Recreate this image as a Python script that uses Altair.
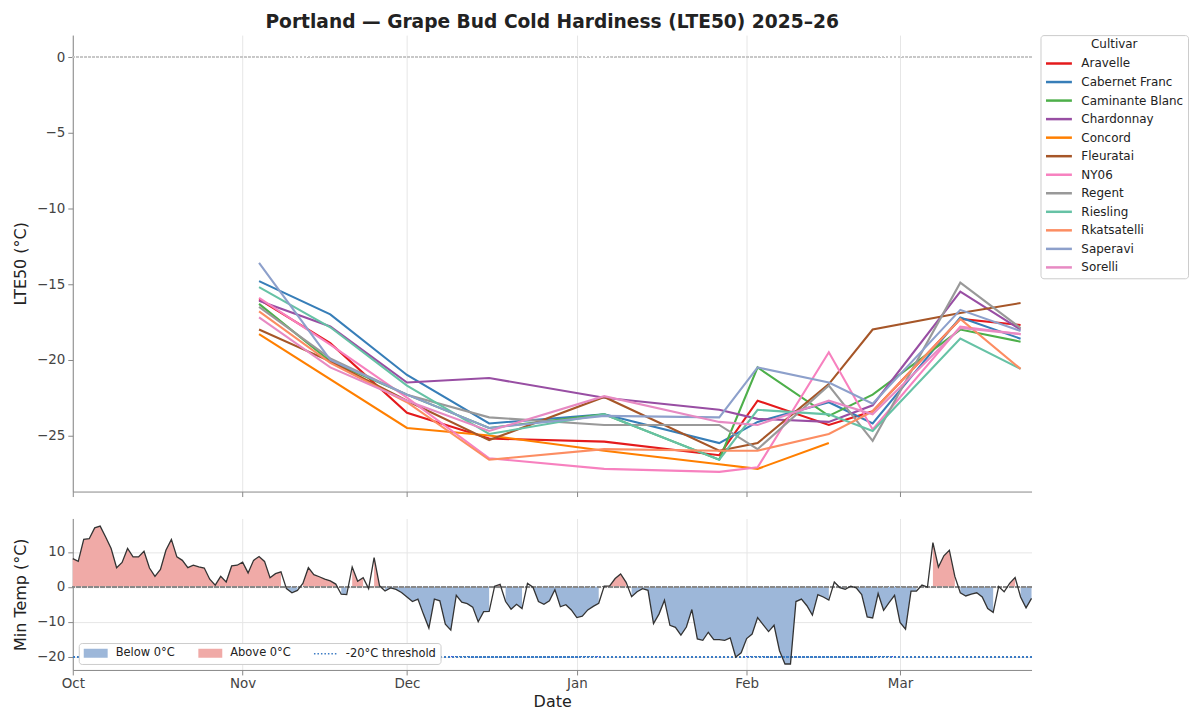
import altair as alt
import pandas as pd

FONT = "DejaVu Sans"
TITLE = "Portland — Grape Bud Cold Hardiness (LTE50) 2025–26"

# ---------------- LTE50 data ----------------
cultivars = ["Aravelle", "Cabernet Franc", "Caminante Blanc", "Chardonnay", "Concord",
             "Fleuratai", "NY06", "Regent", "Riesling", "Rkatsatelli", "Saperavi", "Sorelli"]
cultivar_colors = ["#e41a1c", "#377eb8", "#4daf4a", "#984ea3", "#ff7f00", "#a65628",
                   "#f781bf", "#999999", "#66c2a5", "#fc8d62", "#8da0cb", "#e78ac3"]

sample_dates = ["2025-11-04", "2025-11-17", "2025-12-01", "2025-12-16", "2026-01-06",
                "2026-01-27", "2026-02-03", "2026-02-16", "2026-02-24", "2026-03-12", "2026-03-23"]

aravelle = [-16.0, -18.9, -23.5, -25.2, -25.4, -26.3, -22.7, -24.3, -23.4, -17.3, -17.7]
cabernet_franc = [-14.8, -17.0, -21.0, -24.2, -23.6, -25.5, -24.1, -22.8, -24.2, -17.2, -18.6]
caminante_blanc = [-16.3, -20.1, -22.3, -24.5, -23.6, -26.6, -20.5, -23.7, -22.3, -18.0, -18.8]
chardonnay = [-16.1, -17.8, -21.5, -21.2, -22.5, -23.3, -23.9, -24.1, -23.0, -15.5, -18.0]
concord = [-18.3, None, -24.5, -25.0, -26.0, -26.9, -27.2, -25.5, None, None, None]
fleuratai = [-18.0, -20.1, -22.7, -25.3, -22.45, -26.0, -25.5, -21.6, -18.0, -16.9, -16.25]
ny06 = [-15.9, -19.0, -22.5, -26.5, -27.2, -27.4, -27.1, -19.5, -24.6, -17.8, -18.3]
regent = [-16.5, -19.9, -22.3, -23.8, -24.3, -24.3, -25.9, -21.7, -25.35, -14.9, -17.9]
riesling = [-15.2, -17.85, -21.7, -24.9, -23.6, -26.6, -23.3, -23.6, -24.7, -18.6, -20.6]
rkatsatelli = [-16.8, -20.2, -22.8, -26.6, -25.9, -26.0, -26.0, -24.9, -23.4, -17.3, -20.6]
saperavi = [-13.6, -20.0, -22.3, -24.5, -23.7, -23.8, -20.5, -21.5, -22.9, -16.7, -18.1]
sorelli = [-17.2, -20.5, -22.7, -24.7, -22.4, -24.1, -24.3, -22.7, -23.6, -17.9, -18.3]

# ---------------- Daily minimum temperature ----------------
temp_start = "2025-10-01"
min_temp = [
    8.1, 7.3, 13.6, 13.8, 16.9, 17.4, 14.3, 11.0, 5.5, 7.0,
    11.0, 8.6, 8.6, 10.2, 5.4, 3.0, 5.0, 10.5, 13.6, 8.6,
    7.6, 5.5, 6.2, 5.7, 5.4, 2.2, 0.5, 3.0, 1.4, 6.0,
    6.2, 7.1, 4.0, 7.6, 8.7, 7.3, 2.6, 3.8, 4.3, -0.5,
    -1.7, -1.0, 1.0, 5.5, 3.5, 2.9, 2.2, 1.7, 0.8, -2.1,
    -2.2, 5.7, 1.6, 2.6, -0.5, 8.4, 0.3, -1.2, -0.3, -0.7,
    -1.6, -2.9, -4.2, -3.5, -7.8, -11.8, -3.5, -4.0, -10.7, -12.4,
    -2.4, -4.4, -4.8, -5.8, -10.0, -7.1, -7.0, 0.2, 0.7, -4.2,
    -6.4, -5.0, -6.2, 1.0, -0.1, -4.2, -5.0, -4.0, -0.8, -5.7,
    -5.1, -6.6, -8.8, -8.4, -6.6, -5.6, -4.7, 0.2, 0.3, 2.4,
    3.7, 1.3, -2.8, -1.4, -0.5, -1.0, -10.5, -7.8, -3.8, -11.0,
    -11.6, -13.8, -11.5, -6.5, -14.9, -15.3, -13.0, -15.1, -15.1, -15.3,
    -14.6, -20.1, -18.9, -14.8, -13.5, -8.8, -10.8, -12.8, -11.0, -18.3,
    -22.1, -22.1, -4.2, -3.5, -5.4, -8.1, -2.2, -2.9, -3.8, 1.4,
    -0.2, -0.7, 0.2, -0.3, -2.2, -8.6, -8.9, -1.9, -6.7, -4.5,
    -2.4, -10.2, -12.1, -1.2, -1.2, 0.5, -0.1, 12.7, 5.7, 8.9,
    10.5, 3.0, -1.7, -2.6, -2.1, -1.7, -2.9, -6.2, -7.3, 0.1,
    -1.4, 1.0, 2.7, -2.9, -6.0, -3.3,
]
threshold = -20
legend_kinds = ["Below 0°C", "Above 0°C", "-20°C threshold"]

# ---------------- styles ----------------
BLUE_FILL = "#9db7d9"
RED_FILL = "#f0aaa7"
THR_COLOR = "#3d7cc4"
LINE_DARK = "#333333"

# ---------------- tables ----------------
series = [aravelle, cabernet_franc, caminante_blanc, chardonnay, concord, fleuratai,
          ny06, regent, riesling, rkatsatelli, saperavi, sorelli]
rows = []
for name, vals in zip(cultivars, series):
    for d, v in zip(sample_dates, vals):
        if v is not None:
            rows.append({"date": d, "cultivar": name, "lte50": v})
df_lte = pd.DataFrame(rows)

dates = pd.date_range(temp_start, periods=len(min_temp), freq="D")
df_temp = pd.DataFrame({"date": dates.strftime("%Y-%m-%d"), "temp": min_temp})
df_temp["below"] = [t if t < 0 else None for t in min_temp]
df_temp["above"] = [t if t > 0 else None for t in min_temp]

df_leg = pd.DataFrame({"kind": legend_kinds,
                       "date": [df_temp["date"].iloc[0]] * 3,
                       "temp": [min_temp[0]] * 3})

d0, d1 = dates[0], dates[-1]
x_domain = [alt.DateTime(year=d0.year, month=d0.month, date=d0.day, utc=True),
            alt.DateTime(year=d1.year, month=d1.month, date=d1.day, utc=True)]
x_scale = alt.Scale(type="utc", domain=x_domain, nice=False)
month_ticks = {"interval": "month", "step": 1}

TICK_FS = 13.5
AXTITLE_FS = 16

# ---------------- top panel ----------------
x_top = alt.X("date:T", scale=x_scale,
              axis=alt.Axis(title=None, labels=False, ticks=True, tickSize=5,
                            tickCount=month_ticks, grid=True, minExtent=5, maxExtent=5))
y_top = alt.Y("lte50:Q", scale=alt.Scale(domain=[-28.7, 1.45], nice=False, zero=False),
              axis=alt.Axis(title="LTE50 (°C)", values=[0, -5, -10, -15, -20, -25],
                            tickSize=5, labelFontSize=TICK_FS, titleFontSize=AXTITLE_FS,
                            titlePadding=8, labelPadding=3))

zero_top = alt.Chart(df_lte).mark_rule(color="#c8c8c8", strokeDash=[2, 2], strokeWidth=1).encode(
    y=alt.datum(0))

cult_legend = alt.Legend(title="Cultivar", orient="right", offset=9,
                         symbolType="M-2.6,0H2.6", symbolSize=100, symbolStrokeWidth=2.5,
                         symbolOffset=8, labelOffset=16, labelFontSize=12, labelFont=FONT,
                         titleFont=FONT, titleFontSize=12, titleFontWeight="normal",
                         titleAnchor="middle", padding=4, strokeColor="#cccccc",
                         fillColor="white", cornerRadius=3, rowPadding=5.6, titlePadding=6,
                         labelColor="#222222", titleColor="#222222")

lines = alt.Chart(df_lte).mark_line(strokeWidth=2.1).encode(
    x=x_top, y=y_top,
    color=alt.Color("cultivar:N", scale=alt.Scale(domain=cultivars, range=cultivar_colors),
                    legend=cult_legend),
)

top = alt.layer(zero_top, lines).properties(
    width=962, height=458,
    title=alt.Title(TITLE, fontSize=18.7, fontWeight="bold", font=FONT, anchor="middle",
                    frame="group", offset=3, color="#222222"),
)

# ---------------- bottom panel ----------------
x_bot = alt.X("date:T", scale=x_scale,
              axis=alt.Axis(title="Date", format="%b", tickCount=month_ticks, labelFlush=False,
                            labelFontSize=TICK_FS, titleFontSize=AXTITLE_FS, tickSize=5,
                            labelPadding=2, titlePadding=3, grid=True))
y_scale_bot = alt.Scale(domain=[-23.8, 19.6], nice=False, zero=False)
y_axis_bot = alt.Axis(title="Min Temp (°C)", values=[-20, -10, 0, 10], tickSize=5,
                      labelFontSize=TICK_FS, titleFontSize=AXTITLE_FS, titlePadding=8,
                      labelPadding=3)

base = alt.Chart(df_temp)
area_below = base.mark_area(color=BLUE_FILL, invalid="break-paths-show-domains").encode(
    x=x_bot, y=alt.Y("below:Q", scale=y_scale_bot, axis=y_axis_bot), y2=alt.datum(0))
area_above = base.mark_area(color=RED_FILL, invalid="break-paths-show-domains").encode(
    x=x_bot, y=alt.Y("above:Q", scale=y_scale_bot, axis=y_axis_bot), y2=alt.datum(0))
zero_bot = base.mark_rule(color="#8a8a8a", strokeDash=[4, 2], strokeWidth=1).encode(
    y=alt.datum(0))
thr_rule = base.mark_rule(color=THR_COLOR, strokeDash=[1.5, 2.5], strokeWidth=1.6).encode(
    y=alt.datum(threshold))
temp_line = base.mark_line(color=LINE_DARK, strokeWidth=1.3).encode(
    x=x_bot, y=alt.Y("temp:Q", scale=y_scale_bot, axis=y_axis_bot))

# legend symbols: a solid band (stacked strokes) for the fills, a dotted line for the threshold
band_offsets = [-0.76, -0.57, -0.38, -0.19, 0, 0.19, 0.38, 0.57, 0.76]
band_path = "".join(f"M-2.4,{o}H2.4" for o in band_offsets)
line_path = "M-2.4,0H2.4"
leg_props = dict(title=None, orient="bottom-left", direction="horizontal", offset=6,
                 symbolSize=100, symbolStrokeWidth=1.4, symbolOffset=7, labelOffset=14,
                 columnPadding=20, labelFontSize=11.5, labelFont=FONT, labelColor="#222222",
                 padding=4, strokeColor="#cccccc", fillColor="white", cornerRadius=3)
leg_points = alt.Chart(df_leg).mark_point(filled=False, opacity=0).encode(
    x=x_bot, y=alt.Y("temp:Q", scale=y_scale_bot, axis=y_axis_bot),
    stroke=alt.Stroke("kind:N", scale=alt.Scale(domain=legend_kinds,
                                                range=[BLUE_FILL, RED_FILL, THR_COLOR]),
                      legend=alt.Legend(**leg_props)),
    shape=alt.Shape("kind:N", scale=alt.Scale(domain=legend_kinds,
                                              range=[band_path, band_path, line_path]),
                    legend=alt.Legend(**leg_props)),
    strokeDash=alt.StrokeDash("kind:N", scale=alt.Scale(domain=legend_kinds,
                                                        range=[[1, 0], [1, 0], [1.5, 2]]),
                              legend=alt.Legend(**leg_props)),
)

bottom = alt.layer(area_below, area_above, zero_bot, thr_rule, temp_line, leg_points).properties(
    width=962, height=152)

chart = alt.vconcat(top, bottom, spacing=21).resolve_scale(
    x="independent", y="independent", color="independent",
    stroke="independent", shape="independent", strokeDash="independent",
).resolve_legend(color="independent").properties(
    padding={"left": 4, "top": 3, "right": 0, "bottom": 0}
).configure_view(strokeWidth=0).configure_axis(
    domainColor="#888888", tickColor="#888888", gridColor="#e6e6e6",
    labelFont=FONT, titleFont=FONT, labelColor="#444444", titleColor="#222222",
    titleFontWeight="normal",
).configure_text(font=FONT)

chart.save("out.html", embed_options={"renderer": "svg", "actions": False})
